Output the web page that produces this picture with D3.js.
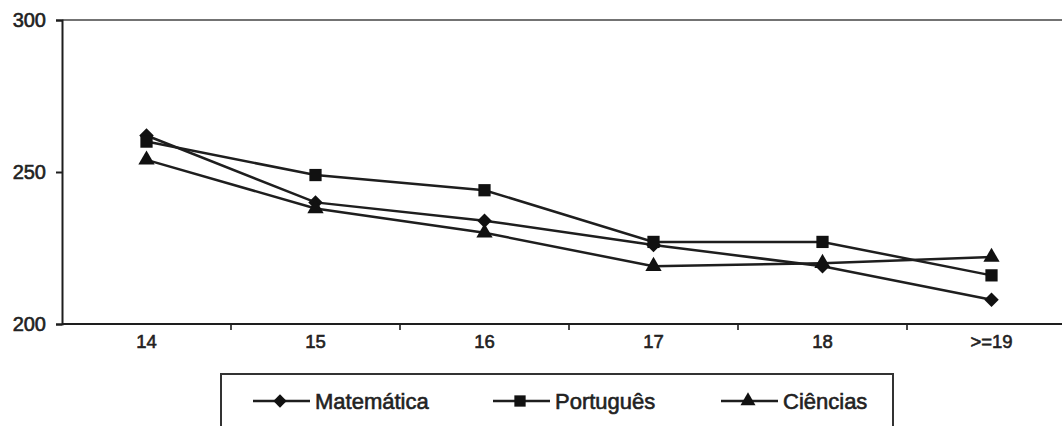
<!DOCTYPE html>
<html><head><meta charset="utf-8">
<script src="https://cdn.jsdelivr.net/npm/d3@7"></script>
<style>body{margin:0;background:#fff}text{font-family:"Liberation Sans",Arial,sans-serif;fill:#222}</style>
</head><body><svg id="c" width="1062" height="426"></svg>
<script>
const categories = ["14","15","16","17","18",">=19"];
const matematica = [262,240,234,226,219,208];
const portugues  = [260,249,244,227,227,216];
const ciencias   = [254,238,230,219,220,222];
const yTicks = [200,250,300];
const seriesNames = ["Matemática","Português","Ciências"];
const seriesShapes = ["diamond","square","triangle"];

const svg = d3.select("#c");
const x = d3.scaleBand().domain(categories).range([62,1076]);
const y = d3.scaleLinear().domain([200,300]).range([324,20]);
const ink = "#1e1e1e";

// top gridline
svg.append("line").attr("x1",62).attr("x2",1062).attr("y1",y(300)).attr("y2",y(300)).attr("stroke","#444").attr("stroke-width",1.6);

// y axis
const ya = svg.append("g").attr("transform","translate(62,0)").call(d3.axisLeft(y).tickValues(yTicks).tickSize(6).tickPadding(10).tickFormat(d3.format("d")));
ya.select(".domain").attr("stroke",ink).attr("stroke-width",2);
ya.selectAll(".tick line").attr("stroke",ink).attr("stroke-width",2);
ya.selectAll("text").attr("font-size",20).attr("fill","#222").attr("stroke","#222").attr("stroke-width",0.6).attr("font-family","Liberation Sans, Arial, sans-serif");

// x axis
const xa = svg.append("g").attr("transform","translate(0,324)").call(d3.axisBottom(x).tickSize(0).tickPadding(11));
xa.select(".domain").remove();
svg.append("line").attr("x1",62).attr("x2",1062).attr("y1",324).attr("y2",324).attr("stroke",ink).attr("stroke-width",2);
const bounds = categories.map(c=>x(c)).slice(1);
svg.selectAll(".xt").data(bounds).join("line").attr("x1",d=>d).attr("x2",d=>d).attr("y1",324).attr("y2",330).attr("stroke",ink).attr("stroke-width",1.6);
xa.selectAll("text").attr("font-size",18.5).attr("fill","#222").attr("stroke","#222").attr("stroke-width",0.6).attr("font-family","Liberation Sans, Arial, sans-serif");

const sym = {diamond:d3.symbolSquare, square:d3.symbolSquare, triangle:d3.symbolTriangle};
const rot = {diamond:45, square:0, triangle:0};
const symSize = {diamond:105, square:150, triangle:115};
const data = [matematica, portugues, ciencias];
const line = d3.line().x((d,i)=>x(categories[i])+x.bandwidth()/2).y(d=>y(d));
data.forEach((vals,k)=>{
  svg.append("path").attr("d",line(vals)).attr("fill","none").attr("stroke",ink).attr("stroke-width",2.5);
});
data.forEach((vals,k)=>{
  const shape = seriesShapes[k];
  svg.selectAll(".m"+k).data(vals).join("path")
    .attr("transform",(d,i)=>`translate(${x(categories[i])+x.bandwidth()/2},${y(d)}) rotate(${rot[shape]})`)
    .attr("d",d3.symbol().type(sym[shape]).size(symSize[shape]))
    .attr("fill","#111");
});

// legend
svg.append("rect").attr("x",221).attr("y",374).attr("width",672).attr("height",80).attr("fill","none").attr("stroke","#333").attr("stroke-width",2);
const legX = [253,493,721];
seriesNames.forEach((n,k)=>{
  const g = svg.append("g").attr("transform",`translate(${legX[k]},401)`);
  g.append("line").attr("x1",0).attr("x2",57).attr("y1",0).attr("y2",0).attr("stroke",ink).attr("stroke-width",2.5);
  g.append("path").attr("transform",`translate(27,0) rotate(${rot[seriesShapes[k]]})`).attr("d",d3.symbol().type(sym[seriesShapes[k]]).size(symSize[seriesShapes[k]]*0.85)).attr("fill","#111");
  g.append("text").attr("x",62).attr("y",0).attr("dy","0.36em").attr("font-size",22).attr("stroke","#222").attr("stroke-width",0.6).text(n);
});
</script></body></html>
